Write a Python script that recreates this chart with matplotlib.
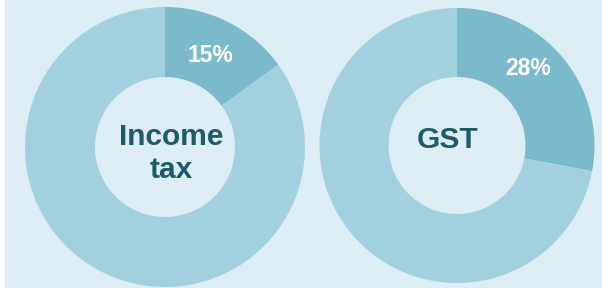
import numpy as np
import matplotlib.pyplot as plt
from matplotlib.patches import Rectangle

# data
titles = ["Income\ntax", "GST"]
shares = [15, 28]
labels = ["15%", "28%"]

bg = "#dcedf3"
light = "#a3d0df"
dark = "#7bbacb"
ink = "#1f5a6a"

fig = plt.figure(figsize=(6.02, 2.88), dpi=100, facecolor="white")
ax = fig.add_axes([0, 0, 1, 1])
ax.add_patch(Rectangle((5, 0), 597, 288, color=bg, zorder=0))

centers = [(165, 141), (457, 142.5)]
radii = [140, 137.5]
holes = [70, 68.5]
label_pos = [(63.6, 0.73), (47.3, 0.76)]   # angle in degrees, radius fraction
title_pos = [(171, 134.5), (447.5, 148)]

for title, share, lab, c, r, h, lp, tp in zip(titles, shares, labels, centers,
                                               radii, holes, label_pos, title_pos):
    ax.pie([share, 100 - share], colors=[dark, light], startangle=90,
           counterclock=False, center=c, radius=r,
           wedgeprops=dict(width=r - h, linewidth=0), frame=True)
    la, lf = lp
    ax.text(c[0] + lf * r * np.cos(np.radians(la)), c[1] + lf * r * np.sin(np.radians(la)),
            lab, ha="center", va="center", color="white", fontsize=16.5,
            fontweight="bold", family="Liberation Sans")
    ax.text(tp[0], tp[1], title, ha="center", va="center", color=ink,
            fontsize=21.5, fontweight="bold", family="Liberation Sans",
            linespacing=1.25)

ax.set_xlim(0, 602)
ax.set_ylim(0, 288)
ax.set_aspect("equal")
ax.axis("off")
fig.savefig("out.png", dpi=100, facecolor="white")
